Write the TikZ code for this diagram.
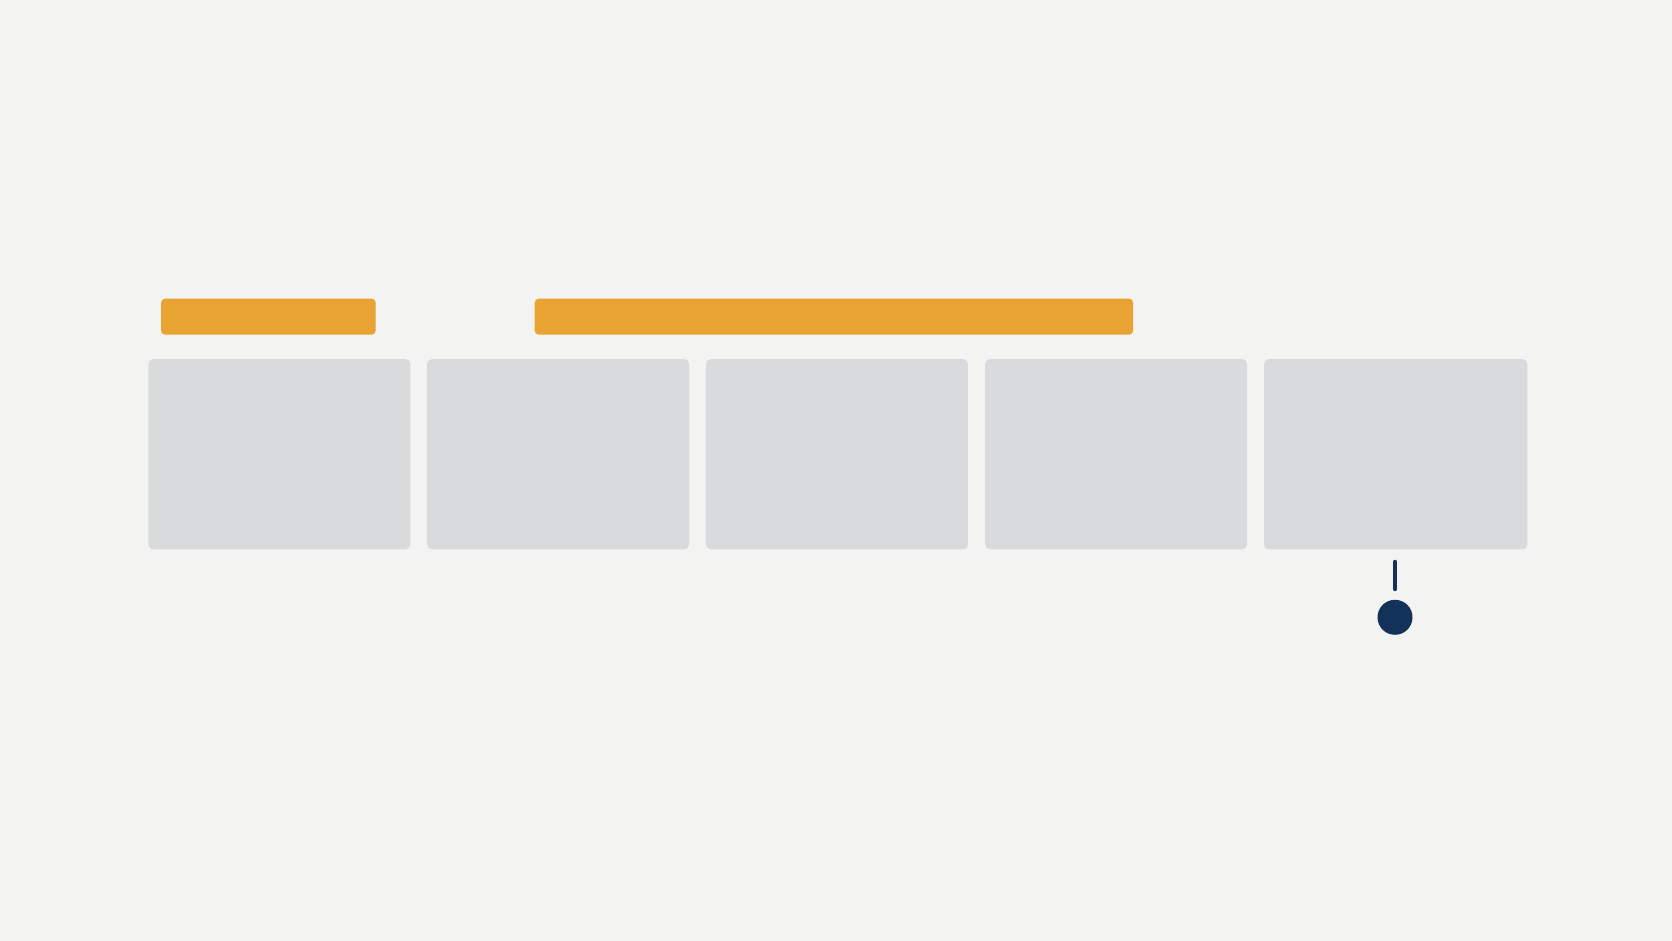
\documentclass[tikz,border=0pt]{standalone}
\usetikzlibrary{calc}
\definecolor{bgc}{HTML}{F3F3F2}
\definecolor{boxc}{HTML}{D9DADC}
\definecolor{orc}{HTML}{E8A333}
\definecolor{navyc}{HTML}{13325A}
\tikzset{
  panel/.style={fill=boxc, draw=none, rounded corners=5*0.5pt, minimum width=262*0.5pt, minimum height=190.3*0.5pt, inner sep=0pt, anchor=north west},
  bar/.style={fill=orc, draw=none, rounded corners=4*0.5pt, minimum height=36*0.5pt, inner sep=0pt, anchor=north west},
  stub/.style={draw=navyc, line width=4.5*0.5pt, line cap=round},
  dot/.style={circle, sharp corners, fill=navyc, draw=none, minimum size=35*0.5pt, inner sep=0pt}
}
\begin{document}
\begin{tikzpicture}[x=0.5pt,y=-0.5pt]
\fill[bgc] (0,0) rectangle (1672,941);
\useasboundingbox (0,0) rectangle (1672,941);
\node[bar, minimum width=214.6*0.5pt] (b1) at (160.7,298.3) {};
\node[bar, minimum width=598.4*0.5pt] (b2) at (534.3,298.3) {};
\node[panel] (p1) at (148,358.7) {};
\node[panel] (p2) at (426.7,358.7) {};
\node[panel] (p3) at (705.5,358.7) {};
\node[panel] (p4) at (984.7,358.7) {};
\node[panel, minimum width=263.3*0.5pt] (p5) at (1263.7,358.7) {};
\coordinate (s1) at (1395,562);
\coordinate (s2) at (1395,589);
\draw[stub] (s1) -- (s2);
\node[dot] (d) at (1395,617.3) {};
\end{tikzpicture}
\end{document}
